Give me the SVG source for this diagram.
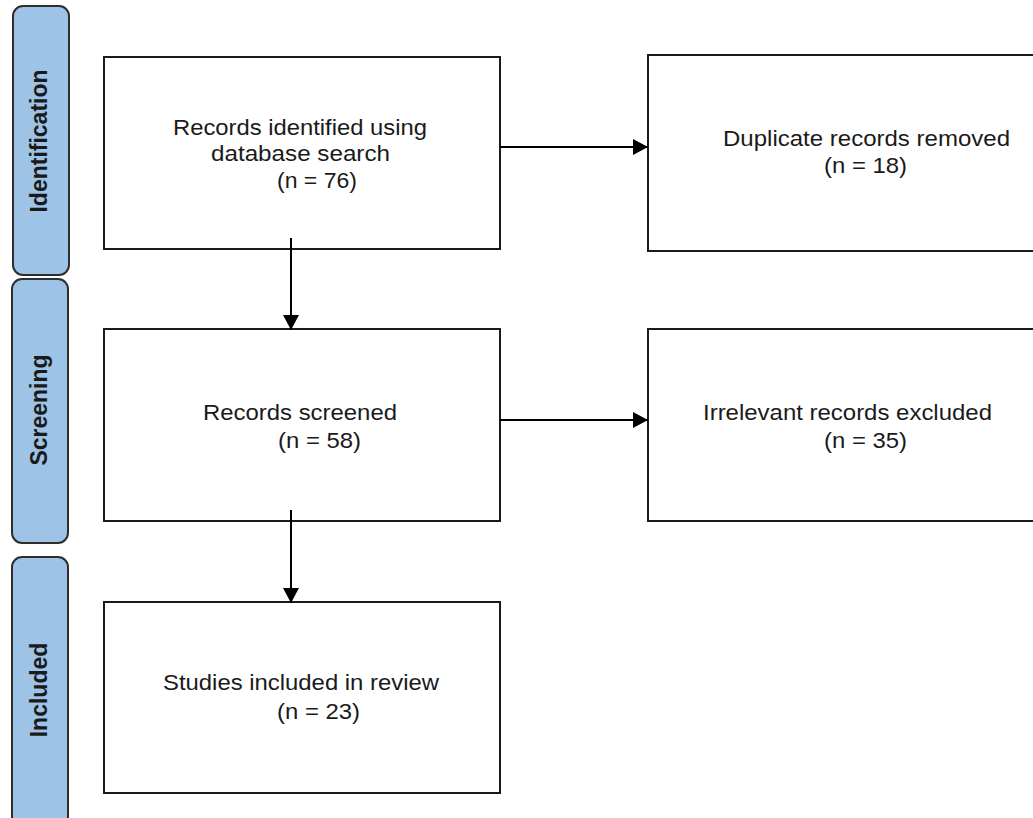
<svg xmlns="http://www.w3.org/2000/svg" width="1033" height="818" viewBox="0 0 1033 818">
<style>
.lane{fill:#9dc3e6;stroke:#2e2e2e;stroke-width:2}
.lt{font-family:"Liberation Sans",Arial,sans-serif;font-weight:bold;font-size:23px;fill:#1a1a1a;text-anchor:middle}
.box{fill:#ffffff;stroke:#1a1a1a;stroke-width:2}
.t{font-family:"Liberation Sans",Arial,sans-serif;font-size:22px;fill:#1a1a1a}
.conn{stroke:#000;stroke-width:2;fill:none}
</style>
<defs>
<marker id="ah" markerUnits="userSpaceOnUse" markerWidth="16" markerHeight="16" refX="15" refY="8" orient="auto">
<path d="M0,0 L15,8 L0,16 Z" fill="#000"/>
</marker>
</defs>
<rect width="1033" height="818" fill="#ffffff"/>
<g id="lane-identification">
<rect class="lane" x="13" y="6" width="56" height="269" rx="10"/>
<text class="lt" transform="translate(47,141) rotate(-90)">Identification</text>
</g>
<g id="lane-screening">
<rect class="lane" x="12" y="279" width="56" height="264" rx="10"/>
<text class="lt" transform="translate(47,410) rotate(-90)">Screening</text>
</g>
<g id="lane-included">
<rect class="lane" x="12" y="557" width="56" height="280" rx="10"/>
<text class="lt" transform="translate(47,690) rotate(-90)">Included</text>
</g>
<g id="node-identified">
<rect class="box" x="104" y="57" width="396" height="192"/>
<text class="t" x="173" y="135" textLength="254" lengthAdjust="spacingAndGlyphs">Records identified using</text>
<text class="t" x="211" y="161" textLength="179" lengthAdjust="spacingAndGlyphs">database search</text>
<text class="t" x="277" y="188" textLength="80" lengthAdjust="spacingAndGlyphs">(n = 76)</text>
</g>
<g id="node-duplicates">
<rect class="box" x="648" y="55" width="400" height="196"/>
<text class="t" x="723" y="146" textLength="287" lengthAdjust="spacingAndGlyphs">Duplicate records removed</text>
<text class="t" x="824" y="173" textLength="83" lengthAdjust="spacingAndGlyphs">(n = 18)</text>
</g>
<g id="node-screened">
<rect class="box" x="104" y="329" width="396" height="192"/>
<text class="t" x="203" y="420" textLength="194" lengthAdjust="spacingAndGlyphs">Records screened</text>
<text class="t" x="278" y="448" textLength="83" lengthAdjust="spacingAndGlyphs">(n = 58)</text>
</g>
<g id="node-excluded">
<rect class="box" x="648" y="329" width="400" height="192"/>
<text class="t" x="703" y="420" textLength="289" lengthAdjust="spacingAndGlyphs">Irrelevant records excluded</text>
<text class="t" x="824" y="448" textLength="83" lengthAdjust="spacingAndGlyphs">(n = 35)</text>
</g>
<g id="node-included">
<rect class="box" x="104" y="602" width="396" height="191"/>
<text class="t" x="163" y="690" textLength="276" lengthAdjust="spacingAndGlyphs">Studies included in review</text>
<text class="t" x="277" y="719" textLength="83" lengthAdjust="spacingAndGlyphs">(n = 23)</text>
</g>
<g id="connectors">
<line class="conn" x1="500" y1="147" x2="648" y2="147" marker-end="url(#ah)"/>
<line class="conn" x1="500" y1="420" x2="648" y2="420" marker-end="url(#ah)"/>
<line class="conn" x1="291" y1="238" x2="291" y2="330" marker-end="url(#ah)"/>
<line class="conn" x1="291" y1="510" x2="291" y2="603" marker-end="url(#ah)"/>
</g>
</svg>
